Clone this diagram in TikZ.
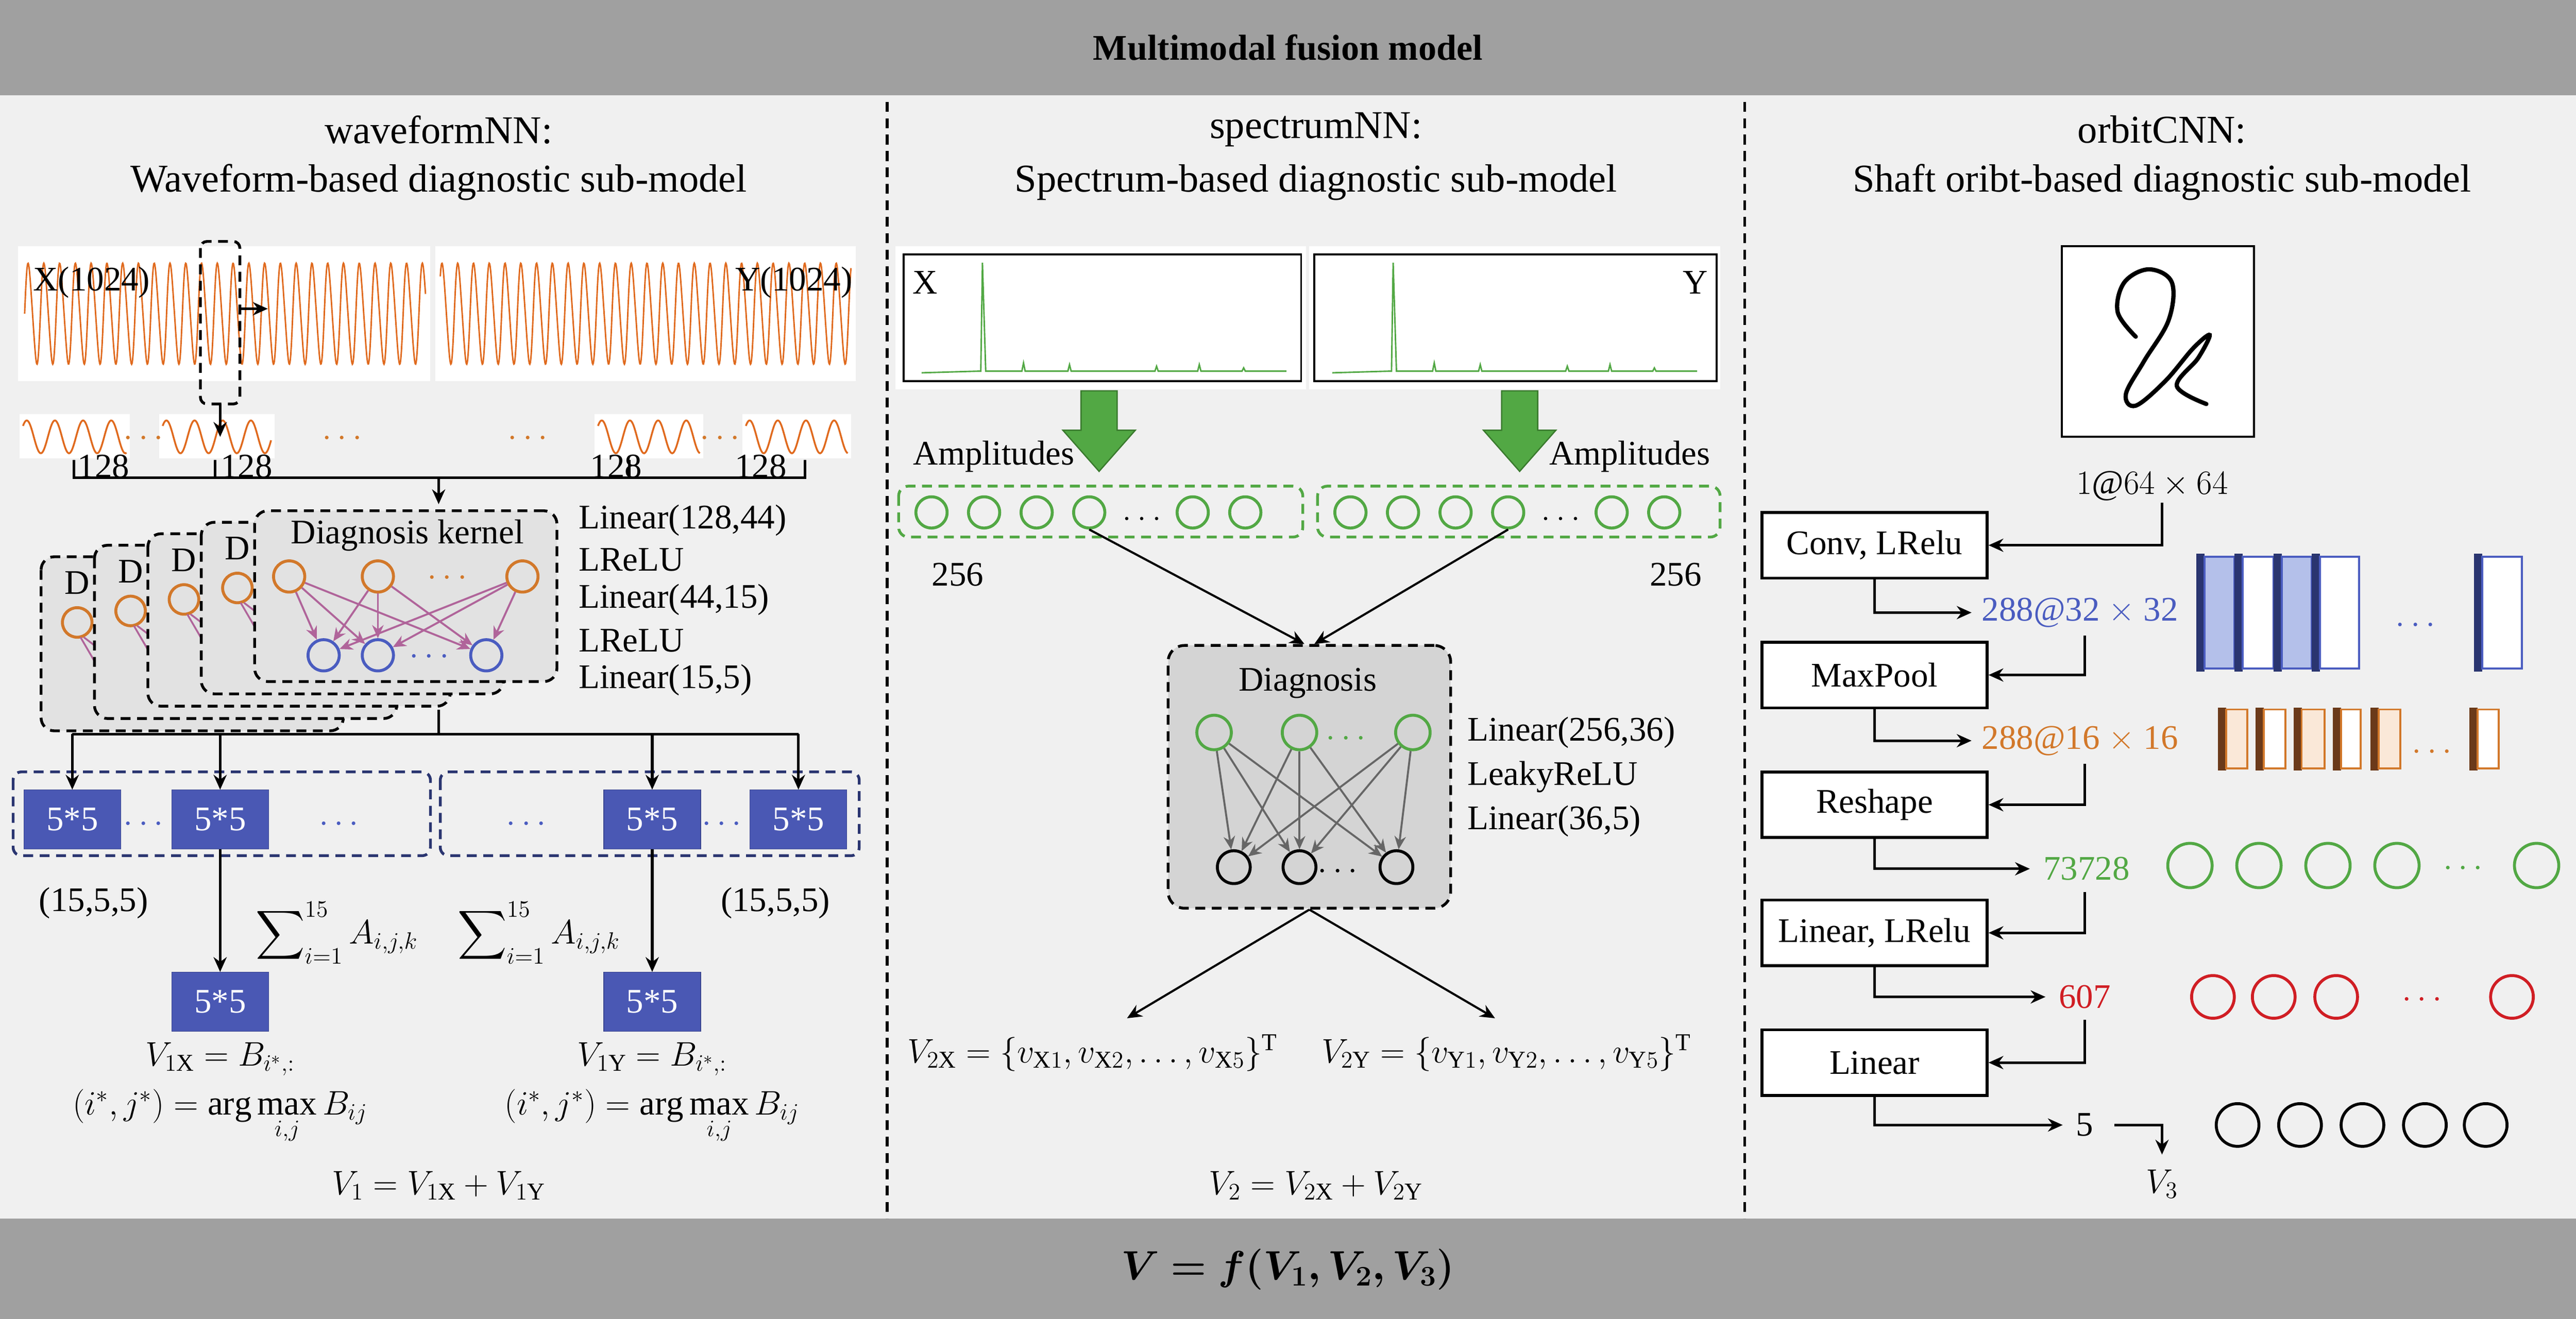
\documentclass[tikz,border=0pt]{standalone}
\usepackage{amsmath,bm}
\usepackage{fontspec}
\setmainfont{Liberation Serif}
\newfontfamily\lserif{Liberation Serif}
\usetikzlibrary{arrows.meta,shapes.geometric,calc}
\definecolor{bg}{HTML}{F0F0F0}
\definecolor{bar}{HTML}{A0A0A0}
\definecolor{wave}{HTML}{E06A1E}
\definecolor{orn}{HTML}{D2782A}
\definecolor{blu}{HTML}{4A5CC0}
\definecolor{sqb}{HTML}{4A58B4}
\definecolor{navy}{HTML}{2A3570}
\definecolor{grn}{HTML}{52A844}
\definecolor{dgrn}{HTML}{3A7A2E}
\definecolor{rd}{HTML}{D01E24}
\definecolor{karr}{HTML}{B0649A}
\definecolor{kfill}{HTML}{E2E2E2}
\definecolor{dfill}{HTML}{D4D4D4}
\definecolor{lblue}{HTML}{B4C0EA}
\definecolor{brn}{HTML}{6B3A1A}
\definecolor{lorn}{HTML}{FAE8D8}
\newcommand{\fs}{\lserif\fontsize{21}{24}\selectfont}
\newcommand{\ft}{\lserif\fontsize{24}{28}\selectfont}
\newcommand{\fm}{\lserif\fontsize{21}{24}\selectfont}
\tikzset{
 lbl/.style={font=\fs, inner sep=0},
 mth/.style={font=\fm, inner sep=0},
 dots/.style={font=\fs\bfseries, inner sep=0},
 arr/.style={line width=1.6pt,-{Stealth[length=9pt,width=8pt]}},
 ln/.style={line width=1.6pt},
 dsh/.style={line width=1.7pt,dash pattern=on 6pt off 4pt},
 sq/.style={fill=sqb,draw=sqb!80!black,minimum width=59pt,minimum height=36pt,text=white,font=\fs,inner sep=0},
 lay/.style={draw=black,line width=1.8pt,fill=white,minimum width=137pt,minimum height=40pt,font=\fs,inner sep=0},
 oc/.style={circle,draw=orn,line width=1.8pt,minimum size=19pt,inner sep=0},
 bc/.style={circle,draw=blu,line width=1.8pt,minimum size=19pt,inner sep=0},
 gc/.style={circle,draw=grn,line width=1.8pt,minimum size=19pt,inner sep=0},
 kc/.style={circle,draw=black,line width=1.8pt,minimum size=20pt,inner sep=0},
 rc/.style={circle,draw=rd,line width=1.8pt,minimum size=26pt,inner sep=0},
 gc2/.style={circle,draw=grn,line width=1.8pt,minimum size=27pt,inner sep=0},
 kc2/.style={circle,draw=black,line width=1.8pt,minimum size=26pt,inner sep=0},
}
\begin{document}
\begin{tikzpicture}[x=1pt,y=-1pt]
\useasboundingbox (0,0) rectangle (1568,803);
\fill[bg] (0,0) rectangle (1568,803);
\fill[bar] (0,0) rectangle (1568,58);
\fill[bar] (0,742) rectangle (1568,803);
\node[font=\lserif\fontsize{22}{26}\selectfont\bfseries] (title) at (784,29) {Multimodal fusion model};
\node[font=\fontsize{24}{28}\selectfont] (final) at (784,773) {$\bm{V=f(V_1,V_2,V_3)}$};
\draw[dsh] (540,62) -- (540,742);
\draw[dsh] (1062,62) -- (1062,742);
% ---------- titles
\node[lbl,font=\ft] (t1a) at (267,79) {waveformNN:};
\node[lbl,font=\ft] (t1b) at (267,111) {Waveform-based diagnostic sub-model};
\node[lbl,font=\ft] (t2a) at (801,79) {spectrumNN:};
\node[lbl,font=\ft] (t2b) at (801,111) {Spectrum-based diagnostic sub-model};
\node[lbl,font=\ft] (t3a) at (1316,79) {orbitCNN:};
\node[lbl,font=\ft] (t3b) at (1316,111) {Shaft oribt-based diagnostic sub-model};
% ---------- waveform
\fill[white] (11,150) rectangle (262,232);
\fill[white] (265,150) rectangle (521,232);
\draw[wave,line width=0.9pt] plot[domain=0:244,samples=900] ({15+\x},{191-30*sin(37.5*\x)-7*sin(37.5*\x)*cos(37.5*\x)});
\draw[wave,line width=0.9pt] plot[domain=0:250,samples=900] ({268+\x},{191-30*sin(37.5*\x+40)-7*sin(37.5*\x+40)*cos(37.5*\x+40)});
\node[lbl,anchor=west] (xlab) at (20,172) {X(1024)};
\node[lbl,anchor=east] (ylab) at (519,172) {Y(1024)};
\draw[dsh,rounded corners=4pt] (122,147) rectangle (146,246);
\coordinate (win) at (134,246);
\coordinate (winr) at (146,188);
\coordinate (winr2) at (163,188);
\draw[arr] (winr) -- (winr2);
% small waves
\foreach \a/\b in {12/79,97/167,362/428,452/518}{
 \fill[white] (\a,252) rectangle (\b,279);
 \draw[wave,line width=1.1pt] plot[domain=2:\b-\a-2,samples=120] ({\a+\x},{266-10*sin(21*\x)});
}
\coordinate (sw2) at (134,266);
\draw[arr] (win) -- (sw2);
\foreach \x in {89,440,210,323}{\node[dots,text=orn] at (\x,267) {$\cdots$};}
\foreach \x in {63,150,375,463}{\node[lbl] at (\x,284) {128};}
\draw[ln] (45,280) -- (45,291) -- (490,291) -- (490,280);
\draw[ln] (131,280) -- (131,291);
\draw[ln] (383,280) -- (383,291);
\coordinate (br) at (267,291);
\coordinate (kin) at (267,307);
\draw[arr] (br) -- (kin);
% kernel stack
\foreach \i in {0,1,2,3}{
 \pgfmathsetmacro\L{25+32.5*\i}\pgfmathsetmacro\T{339-7*\i}
 \pgfmathsetmacro\R{209+32.5*\i}\pgfmathsetmacro\B{445-7.5*\i}
 \draw[dsh,fill=kfill,rounded corners=8pt] (\L,\T) rectangle (\R,\B);
 \node[lbl] at (\L+22,\T+16) {D};
 \draw[orn,line width=1.8pt] (\L+22,\T+40) circle (9);
 \draw[karr,line width=1.1pt] (\L+24,\T+49) -- (\L+45,\T+85);
 \draw[karr,line width=1.1pt] (\L+26,\T+49) -- (\L+60,\T+75);
}
\node[dsh,draw,fill=kfill,rounded corners=8pt,minimum width=184pt,minimum height=104pt] (kern) at (247,363) {};
\node[lbl] (kt) at (248,326) {Diagnosis kernel};
\node[oc] (o1) at (176,351) {};
\node[oc] (o2) at (230,351) {};
\node[oc] (o3) at (318,351) {};
\node[dots,text=orn] at (274,352) {$\cdots$};
\node[bc] (b1) at (197,399) {};
\node[bc] (b2) at (230,399) {};
\node[bc] (b3) at (296,399) {};
\node[dots,text=blu] at (263,400) {$\cdots$};
\foreach \o in {o1,o2,o3}{\foreach \b in {b1,b2,b3}{\draw[karr,line width=1.2pt,-{Stealth[length=8pt,width=7pt]}] (\o) -- (\b);}}
\node[lbl,anchor=west] at (352,317) {Linear(128,44)};
\node[lbl,anchor=west] at (352,341) {LReLU};
\node[lbl,anchor=west] at (352,365) {Linear(44,15)};
\node[lbl,anchor=west] at (352,390) {LReLU};
\node[lbl,anchor=west] at (352,414) {Linear(15,5)};
% 5*5 row
\draw[dsh,draw=navy,rounded corners=5pt] (8,470) rectangle (262,521);
\draw[dsh,draw=navy,rounded corners=5pt] (268,470) rectangle (523,521);
\node[sq] (s1) at (44,499) {5*5};
\node[sq] (s2) at (134,499) {5*5};
\node[sq] (s3) at (397,499) {5*5};
\node[sq] (s4) at (486,499) {5*5};
\foreach \x in {89,208,322,441}{\node[dots,text=blu] at (\x,502) {$\cdots$};}
\coordinate (kout) at (267,432);
\draw[ln] (kout) -- (267,447);
\draw[ln] (44,447) -- (486,447);
\foreach \s in {s1,s2,s3,s4}{\draw[arr] (\s.north |- 0,447) -- (\s.north);}
\node[lbl] at (57,550) {(15,5,5)};
\node[lbl] at (472,550) {(15,5,5)};
\node[sq] (l1) at (134,610) {5*5};
\node[sq] (l2) at (397,610) {5*5};
\draw[arr] (s2.south) -- (l1.north);
\draw[arr] (s3.south) -- (l2.north);
\node[mth] at (205,568) {$\displaystyle\sum\nolimits_{i=1}^{15} A_{i,j,k}$};
\node[mth] at (328,568) {$\displaystyle\sum\nolimits_{i=1}^{15} A_{i,j,k}$};
\node[mth] at (134,645) {$V_{1\mathrm{X}}=B_{i^*,:}$};
\node[mth] at (134,680) {$(i^*,j^*)=\arg\max\limits_{i,j}B_{ij}$};
\node[mth] at (397,645) {$V_{1\mathrm{Y}}=B_{i^*,:}$};
\node[mth] at (397,680) {$(i^*,j^*)=\arg\max\limits_{i,j}B_{ij}$};
\node[mth] at (267,722) {$V_1=V_{1\mathrm{X}}+V_{1\mathrm{Y}}$};
% ---------- spectrum
\fill[white] (545,150) rectangle (795,237);
\fill[white] (797,150) rectangle (1047,237);
\draw[line width=1.2pt] (550,155) rectangle (792,232);
\draw[line width=1.2pt] (800,155) rectangle (1045,232);
\foreach \d in {0,250}{
\draw[grn,line width=0.9pt] (561+\d,227) -- (595+\d,226) -- (597+\d,226) -- (598+\d,160) -- (600+\d,226) -- (622+\d,226) -- (623+\d,221) -- (624+\d,226) -- (650+\d,226) -- (651+\d,222) -- (652+\d,226) -- (703+\d,226) -- (704+\d,223) -- (705+\d,226) -- (729+\d,226) -- (730+\d,222) -- (731+\d,226) -- (756+\d,226) -- (757+\d,224) -- (758+\d,226) -- (783+\d,226);
}
\node[lbl] (spx) at (563,172) {X};
\node[lbl] (spy) at (1032,172) {Y};
\foreach \c in {669,925}{
\draw[dgrn,fill=grn,line width=0.8pt] (\c-11,238) -- (\c+11,238) -- (\c+11,262) -- (\c+22,262) -- (\c,287) -- (\c-22,262) -- (\c-11,262) -- cycle;}
\node[lbl] (amp1) at (605,278) {Amplitudes};
\node[lbl] (amp2) at (992,278) {Amplitudes};
\draw[dsh,draw=grn,rounded corners=6pt] (547,296) rectangle (793,327);
\draw[dsh,draw=grn,rounded corners=6pt] (802,296) rectangle (1047,327);
\foreach \x in {567,599,631,726,758}{\node[gc] at (\x,312) {};}
\node[gc] (ga) at (663,312) {};
\foreach \x in {822,854,886,981,1013}{\node[gc] at (\x,312) {};}
\node[gc] (gb) at (918,312) {};
\node[lbl] at (695,316) {$\ldots$};
\node[lbl] at (950,316) {$\ldots$};
\node[lbl] at (583,350) {256};
\node[lbl] at (1020,350) {256};
\node[dsh,draw,fill=dfill,rounded corners=10pt,minimum width=172pt,minimum height=160pt] (diag) at (797,473) {};
\draw[line width=1.3pt,-{Stealth[length=9pt,width=8pt]}] (ga.south) -- ($(diag.north)+(-3,0)$);
\draw[line width=1.3pt,-{Stealth[length=9pt,width=8pt]}] (gb.south) -- ($(diag.north)+(3,0)$);
\node[lbl] (dt) at (796,416) {Diagnosis};
\node[gc,minimum size=21pt] (g1) at (739,446) {};
\node[gc,minimum size=21pt] (g2) at (791,446) {};
\node[gc,minimum size=21pt] (g3) at (860,446) {};
\node[dots,text=grn] at (821,450) {$\cdots$};
\node[kc] (k1) at (751,528) {};
\node[kc] (k2) at (791,528) {};
\node[kc] (k3) at (850,528) {};
\node[dots] at (816,531) {$\cdots$};
\foreach \o in {g1,g2,g3}{\foreach \b in {k1,k2,k3}{\draw[black!60,line width=1.2pt,-{Stealth[length=8pt,width=7pt]}] (\o) -- (\b);}}
\node[lbl,anchor=west] at (893,446) {Linear(256,36)};
\node[lbl,anchor=west] at (893,473) {LeakyReLU};
\node[lbl,anchor=west] at (893,500) {Linear(36,5)};
\coordinate (o2x) at (686,620);
\coordinate (o2y) at (910,620);
\draw[line width=1.3pt,-{Stealth[length=9pt,width=8pt]}] (diag.south) -- (o2x);
\draw[line width=1.3pt,-{Stealth[length=9pt,width=8pt]}] (diag.south) -- (o2y);
\node[mth] at (665,641) {$V_{2\mathrm{X}}=\{v_{\mathrm{X}1},v_{\mathrm{X}2},\ldots,v_{\mathrm{X}5}\}^{\mathrm{T}}$};
\node[mth] at (917,641) {$V_{2\mathrm{Y}}=\{v_{\mathrm{Y}1},v_{\mathrm{Y}2},\ldots,v_{\mathrm{Y}5}\}^{\mathrm{T}}$};
\node[mth] at (801,722) {$V_2=V_{2\mathrm{X}}+V_{2\mathrm{Y}}$};
% ---------- orbit
\draw[line width=1.2pt,fill=white] (1255,150) rectangle (1372,266);
\draw[line width=2.6pt,line cap=round] plot[smooth,tension=0.6] coordinates {(1300,205)(1289,190)(1293,172)(1308,164)(1322,172)(1320,195)(1305,220)(1294,240)(1300,247)(1318,232)(1335,212)(1345,204)(1338,218)(1325,235)(1343,246)};
\node[mth] (in3) at (1310,296) {$1@64\times64$};
\node[lay] (c1) at (1141,332) {Conv, LRelu};
\node[lay] (c2) at (1141,411) {MaxPool};
\node[lay] (c3) at (1141,490) {Reshape};
\node[lay] (c4) at (1141,568) {Linear, LRelu};
\node[lay] (c5) at (1141,647) {Linear};
\draw[arr] (1316,306) |- (c1.east);
\node[lbl,text=blu] (f1) at (1266,373) {288@32 $\times$ 32};
\node[lbl,text=orn] (f2) at (1266,451) {288@16 $\times$ 16};
\node[lbl,text=grn] (f3) at (1270,529) {73728};
\node[lbl,text=rd] (f4) at (1269,607) {607};
\node[lbl] (f5) at (1269,685) {5};
\draw[arr] (c1.south) |- ($(f1.west)+(-6,0)$);
\draw[arr] (c2.south) |- ($(f2.west)+(-6,0)$);
\draw[arr] (c3.south) |- ($(f3.west)+(-8,0)$);
\draw[arr] (c4.south) |- ($(f4.west)+(-8,0)$);
\draw[arr] (c5.south) |- ($(f5.west)+(-8,0)$);
\draw[arr] (1269,387) |- (c2.east);
\draw[arr] (1269,465) |- (c3.east);
\draw[arr] (1269,543) |- (c4.east);
\draw[arr] (1269,621) |- (c5.east);
\coordinate (v3a) at (1287,685);
\node[mth] (v3) at (1316,721) {$V_3$};
\draw[arr] (v3a) -| (1316,703);
% feature maps
\foreach \a/\b/\f in {1337/1360/lblue,1360/1384/white,1384/1407/lblue,1407/1436/white,1506/1535/white}{
 \fill[navy] (\a,337) rectangle (\a+5,409);
 \draw[blu,line width=1.2pt,fill=\f] (\a+5,339) rectangle (\b,407);}
\node[dots,text=blu] at (1472,381) {$\cdots$};
\foreach \a/\b/\f in {1350/1368/lorn,1373/1391/white,1396/1415/lorn,1420/1437/white,1443/1461/lorn,1503/1521/white}{
 \fill[brn] (\a,431) rectangle (\a+5,469);
 \draw[orn,line width=1.2pt,fill=\f] (\a+5,432) rectangle (\b,468);}
\node[dots,text=orn] at (1482,458) {$\cdots$};
\foreach \x in {1333,1375,1417,1459,1544}{\node[gc2] at (\x,527) {};}
\node[dots,text=grn] at (1501,529) {$\cdots$};
\foreach \x in {1347,1384,1422,1529}{\node[rc] at (\x,607) {};}
\node[dots,text=rd] at (1476,609) {$\cdots$};
\foreach \x in {1362,1400,1438,1476,1513}{\node[kc2] at (\x,685) {};}
\end{tikzpicture}
\end{document}
